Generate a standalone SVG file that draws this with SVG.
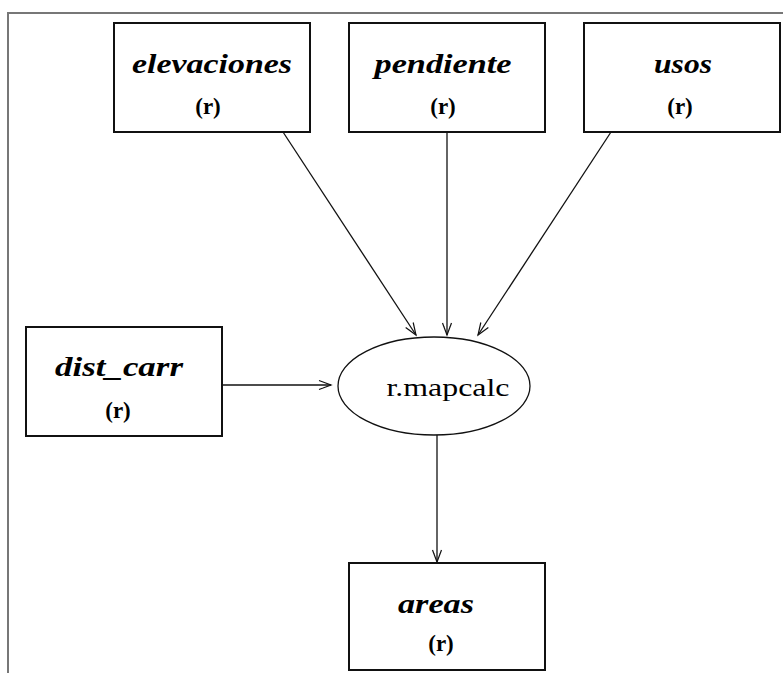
<svg xmlns="http://www.w3.org/2000/svg" width="783" height="673" viewBox="0 0 783 673">
<style>
.box{fill:#fff;stroke:#111;stroke-width:2}
.frame{fill:none;stroke:#777;stroke-width:2}
.name{font-family:"Liberation Serif",serif;font-weight:bold;font-style:italic;font-size:28px;fill:#000}
.r{font-family:"Liberation Serif",serif;font-weight:bold;font-size:23px;fill:#000}
.op{font-family:"Liberation Serif",serif;font-size:26px;fill:#000}
.edge{stroke:#111;stroke-width:1.3;fill:none;marker-end:url(#ah)}
</style>
<defs>
<marker id="ah" markerUnits="userSpaceOnUse" viewBox="-14 -6 16 12" refX="0" refY="0" markerWidth="16" markerHeight="12" orient="auto">
<path d="M -12 -4.5 L 0 0 L -12 4.5 M -8 -3 L 0 0 L -8 3" fill="none" stroke="#111" stroke-width="1.2"/>
</marker>
</defs>
<rect width="783" height="673" fill="#fff"/>
<path class="frame" d="M 8 673 L 8 13 L 783 13"/>
<g id="connectors">
<line class="edge" x1="283" y1="132" x2="416" y2="335"/>
<line class="edge" x1="447" y1="132" x2="447" y2="335"/>
<line class="edge" x1="611" y1="132" x2="478" y2="335"/>
<line class="edge" x1="222" y1="385" x2="331" y2="385"/>
<line class="edge" x1="437" y1="435" x2="437" y2="562"/>
</g>
<g id="elevaciones">
<rect class="box" x="114" y="23" width="196" height="109"/>
<text class="name" x="212" y="73" text-anchor="middle" textLength="160" lengthAdjust="spacingAndGlyphs">elevaciones</text>
<text class="r" x="208" y="114" text-anchor="middle">(r)</text>
</g>
<g id="pendiente">
<rect class="box" x="349" y="23" width="196" height="109"/>
<text class="name" x="443" y="73" text-anchor="middle" textLength="137" lengthAdjust="spacingAndGlyphs">pendiente</text>
<text class="r" x="443" y="114" text-anchor="middle">(r)</text>
</g>
<g id="usos">
<rect class="box" x="584" y="23" width="196" height="109"/>
<text class="name" x="683" y="73" text-anchor="middle" textLength="58" lengthAdjust="spacingAndGlyphs">usos</text>
<text class="r" x="680" y="114" text-anchor="middle">(r)</text>
</g>
<g id="dist_carr">
<rect class="box" x="26" y="327" width="196" height="109"/>
<text class="name" x="119" y="376" text-anchor="middle" textLength="128" lengthAdjust="spacingAndGlyphs">dist_carr</text>
<text class="r" x="118" y="418" text-anchor="middle">(r)</text>
</g>
<g id="r_mapcalc">
<ellipse cx="434" cy="386" rx="96" ry="49" fill="#fff" stroke="#111" stroke-width="1.3"/>
<text class="op" x="448" y="396" text-anchor="middle" textLength="123" lengthAdjust="spacingAndGlyphs">r.mapcalc</text>
</g>
<g id="areas">
<rect class="box" x="349" y="563" width="196" height="107"/>
<text class="name" x="436" y="613" text-anchor="middle" textLength="76" lengthAdjust="spacingAndGlyphs">areas</text>
<text class="r" x="441" y="651" text-anchor="middle">(r)</text>
</g>
</svg>
